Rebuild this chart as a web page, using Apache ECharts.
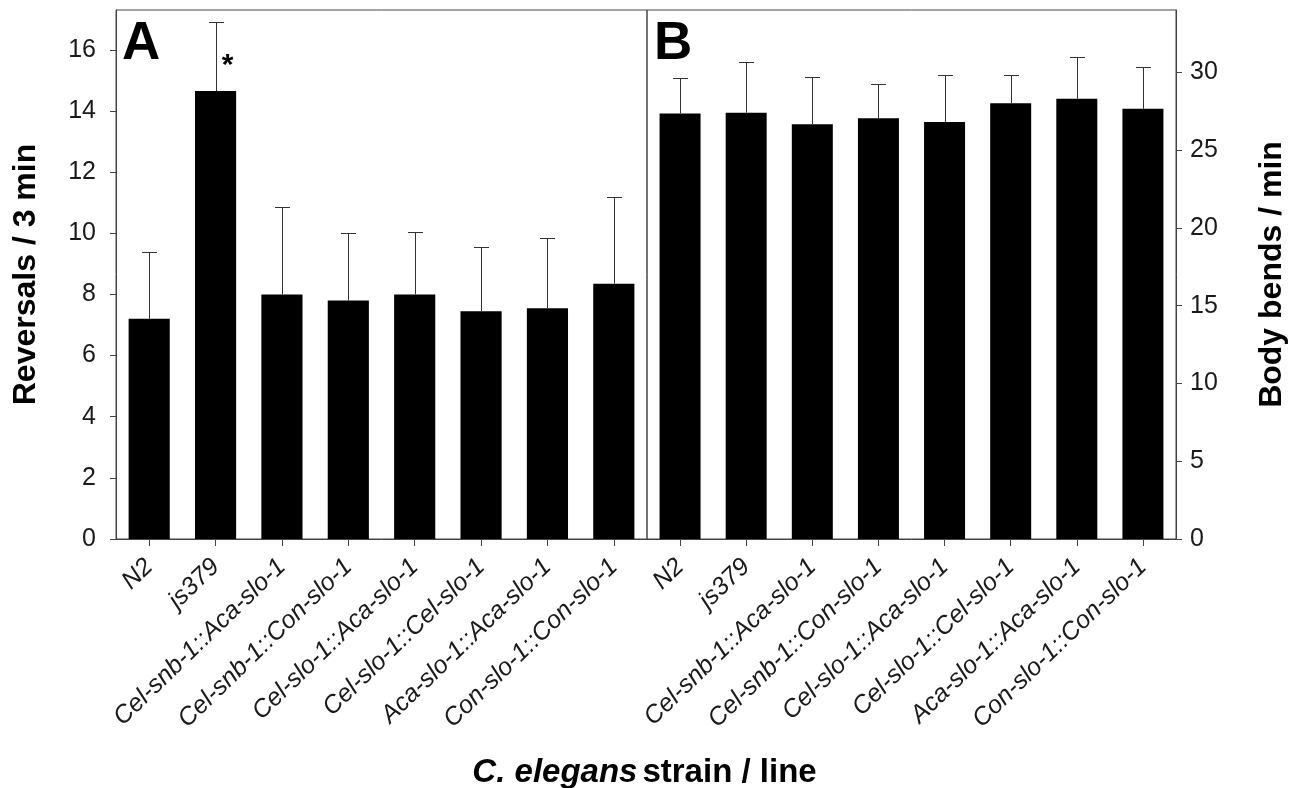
<!DOCTYPE html>
<html>
<head>
<meta charset="utf-8">
<title>Reversals and body bends by strain</title>
<script src="https://cdn.jsdelivr.net/npm/echarts@6/dist/echarts.min.js"></script>
<style>
  html, body { margin: 0; padding: 0; background: #fff; }
  #chart { width: 1289px; height: 788px; }
</style>
</head>
<body>
<div id="chart"></div>
<script>
const strains = [
  'N2', 'js379', 'Cel-snb-1::Aca-slo-1', 'Cel-snb-1::Con-slo-1',
  'Cel-slo-1::Aca-slo-1', 'Cel-slo-1::Cel-slo-1', 'Aca-slo-1::Aca-slo-1', 'Con-slo-1::Con-slo-1'
]
// panel A: reversals / 3 min, mean and upper error
const reversals = [7.2, 14.65, 8.0, 7.8, 8.0, 7.45, 7.55, 8.35]
const reversalsErr = [2.2, 2.25, 2.85, 2.2, 2.05, 2.1, 2.3, 2.85]
const reversalsMarks = ['', '*', '', '', '', '', '', '']
// panel B: body bends / min
const bends = [27.35, 27.4, 26.65, 27.05, 26.8, 28.0, 28.3, 27.65]
const bendsErr = [2.3, 3.25, 3.05, 2.2, 3.0, 1.8, 2.65, 2.7]
const ticksA = [0, 2, 4, 6, 8, 10, 12, 14, 16]
const ticksB = [0, 5, 10, 15, 20, 25, 30]

const FONT = "'Liberation Sans', Arial, sans-serif"
const LINE = '#444'
const TEXT = '#1a1a1a'

function errorBars(idx, means, errs, marks) {
  return {
    type: 'custom',
    xAxisIndex: idx,
    yAxisIndex: idx,
    z: 5,
    silent: true,
    encode: { x: 0, y: [1, 2] },
    data: means.map((m, i) => [i, m, m + errs[i]]),
    renderItem: (params, api) => {
      const i = api.value(0)
      const base = api.coord([i, api.value(1)])
      const top = api.coord([i, api.value(2)])
      const x = Math.round(top[0]) + 0.5
      const y = Math.round(top[1]) + 0.5
      const style = { stroke: '#333', lineWidth: 1 }
      const children = [
        { type: 'line', shape: { x1: x, y1: base[1], x2: x, y2: y }, style },
        { type: 'line', shape: { x1: x - 7.5, y1: y, x2: x + 7.5, y2: y }, style }
      ]
      if (marks && marks[i]) {
        // significance mark sits just right of the bar, below the cap
        children.push({
          type: 'text',
          x: x + 11,
          y: y + 28,
          style: {
            text: marks[i], fill: '#000', font: 'bold 30px ' + FONT,
            align: 'center', verticalAlign: 'top'
          }
        })
      }
      return { type: 'group', children }
    }
  }
}

function catAxis(idx) {
  return {
    type: 'category',
    gridIndex: idx,
    data: strains,
    axisLine: { show: true, lineStyle: { color: LINE, width: 1 } },
    axisTick: { show: true, alignWithLabel: true, length: 7, lineStyle: { color: LINE } },
    axisLabel: {
      interval: 0,
      rotate: 44,
      margin: 24,
      color: TEXT,
      fontFamily: FONT,
      fontStyle: 'italic',
      fontSize: 25
    }
  }
}

const chart = echarts.init(document.getElementById('chart'))

chart.setOption({
  animation: false,
  grid: [
    { left: 116, top: 10, width: 531, height: 529, show: true, borderColor: LINE, borderWidth: 1 },
    { left: 647, top: 10, width: 530, height: 529, show: true, borderColor: LINE, borderWidth: 1 }
  ],
  title: {
    left: 'center',
    top: 751,
    text: '{i|C. elegans} {n|strain / line}',
    textStyle: {
      rich: {
        i: { fontFamily: FONT, fontSize: 33, fontWeight: 'bold', fontStyle: 'italic', color: '#000' },
        n: { fontFamily: FONT, fontSize: 33, fontWeight: 'bold', color: '#000' }
      }
    }
  },
  xAxis: [catAxis(0), catAxis(1)],
  yAxis: [
    {
      type: 'value',
      gridIndex: 0,
      position: 'left',
      min: 0,
      max: 17.3,
      name: 'Reversals / 3 min',
      nameLocation: 'middle',
      nameGap: 74,
      nameTextStyle: { fontFamily: FONT, fontSize: 32, fontWeight: 'bold', color: '#000' },
      splitLine: { show: false },
      axisLine: { show: true, lineStyle: { color: LINE } },
      axisTick: { show: true, length: 6, customValues: ticksA, lineStyle: { color: LINE } },
      axisLabel: { customValues: ticksA, margin: 20, color: TEXT, fontFamily: FONT, fontSize: 25 }
    },
    {
      type: 'value',
      gridIndex: 1,
      position: 'right',
      min: 0,
      max: 34,
      name: 'Body bends / min',
      nameLocation: 'middle',
      nameGap: 80,
      nameTextStyle: { fontFamily: FONT, fontSize: 32, fontWeight: 'bold', color: '#000' },
      splitLine: { show: false },
      axisLine: { show: true, lineStyle: { color: LINE } },
      axisTick: { show: true, length: 6, customValues: ticksB, lineStyle: { color: LINE } },
      axisLabel: { customValues: ticksB, margin: 14, color: TEXT, fontFamily: FONT, fontSize: 25 }
    }
  ],
  graphic: [
    { type: 'text', left: 122, top: 18, style: { text: 'A', font: 'bold 53px ' + FONT, fill: '#000' } },
    { type: 'text', left: 654, top: 18, style: { text: 'B', font: 'bold 53px ' + FONT, fill: '#000' } }
  ],
  series: [
    {
      type: 'bar',
      xAxisIndex: 0,
      yAxisIndex: 0,
      barWidth: '62%',
      itemStyle: { color: '#000' },
      data: reversals
    },
    errorBars(0, reversals, reversalsErr, reversalsMarks),
    {
      type: 'bar',
      xAxisIndex: 1,
      yAxisIndex: 1,
      barWidth: '62%',
      itemStyle: { color: '#000' },
      data: bends
    },
    errorBars(1, bends, bendsErr, null)
  ]
})
</script>
</body>
</html>
